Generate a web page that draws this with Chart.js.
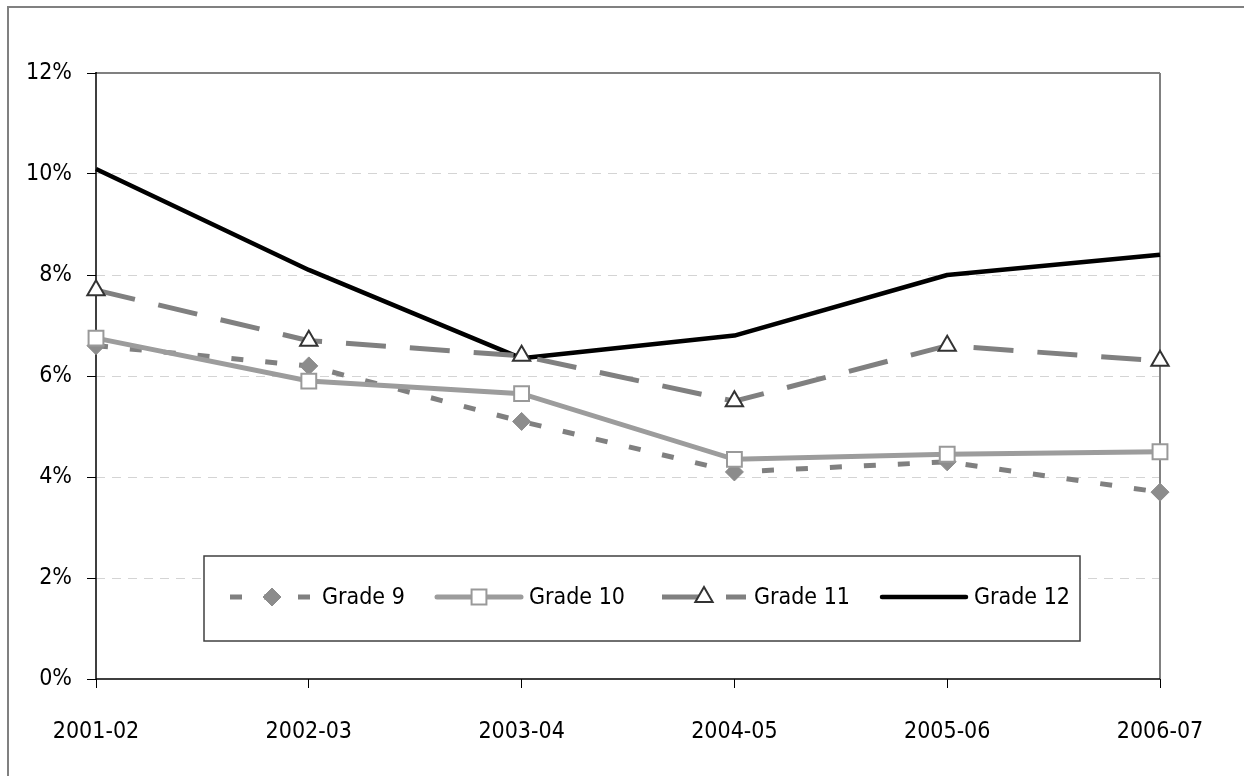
<!DOCTYPE html>
<html><head><meta charset="utf-8">
<script src="https://cdn.jsdelivr.net/npm/chart.js@4"></script>
<style>html,body{margin:0;padding:0;background:#fff;} #wrap{width:1244px;height:776px;position:relative}</style>
</head><body><div id="wrap"><canvas id="c" width="1244" height="776"></canvas></div>
<script>
const categories = ['2001-02','2002-03','2003-04','2004-05','2005-06','2006-07'];
const grade9 = [6.6, 6.2, 5.1, 4.1, 4.3, 3.7];
const grade10 = [6.75, 5.9, 5.65, 4.35, 4.45, 4.5];
const grade11 = [7.7, 6.7, 6.4, 5.5, 6.6, 6.3];
const grade12 = [10.1, 8.1, 6.35, 6.8, 8.0, 8.4];
const seriesNames = ['Grade 9','Grade 10','Grade 11','Grade 12'];
const yTickValues = [0, 2, 4, 6, 8, 10, 12];

const FONT = '"Liberation Sans Narrow", "DejaVu Sans Condensed", "Arial Narrow", sans-serif';
const FONT_SIZE = 23;
Chart.defaults.font.family = FONT;
Chart.defaults.font.size = FONT_SIZE;
Chart.defaults.color = '#000';

const outerBorder = {
  id: 'outerBorder',
  beforeDraw(chart) {
    const ctx = chart.ctx;
    ctx.save();
    ctx.fillStyle = '#fff';
    ctx.fillRect(0, 0, chart.width, chart.height);
    ctx.strokeStyle = '#808080';
    ctx.lineWidth = 2;
    ctx.strokeRect(8, 7, chart.width + 50, chart.height + 50);
    ctx.restore();
  }
};

const frame = {
  id: 'frame',
  beforeDatasetsDraw(chart) {
    const {ctx, chartArea: a} = chart;
    ctx.save();
    ctx.lineCap = 'butt';
    ctx.strokeStyle = '#808080';
    ctx.lineWidth = 2;
    ctx.beginPath();
    ctx.moveTo(a.left, a.top); ctx.lineTo(a.right, a.top);
    ctx.moveTo(a.right, a.top); ctx.lineTo(a.right, a.bottom);
    ctx.stroke();
    ctx.strokeStyle = '#000';
    ctx.lineWidth = 1.5;
    ctx.beginPath();
    ctx.moveTo(a.left, a.top - 1); ctx.lineTo(a.left, a.bottom);
    ctx.moveTo(a.left, a.bottom); ctx.lineTo(a.right, a.bottom);
    ctx.stroke();
    ctx.restore();
  }
};

const boxLegend = {
  id: 'boxLegend',
  afterDatasetsDraw(chart) {
    const ctx = chart.ctx;
    const a = chart.chartArea;
    const bx = a.left + 108, by = a.top + 483, bw = 876, bh = 85;
    ctx.save();
    ctx.fillStyle = '#fff';
    ctx.fillRect(bx, by, bw, bh);
    ctx.strokeStyle = '#404040';
    ctx.lineWidth = 1.5;
    ctx.strokeRect(bx, by, bw, bh);
    const cy = by + 41;
    const starts = [bx + 26, bx + 233, bx + 458, bx + 678];
    const lineLen = 84;
    chart.data.datasets.forEach((ds, i) => {
      const x0 = starts[i];
      ctx.save();
      ctx.strokeStyle = ds.borderColor;
      ctx.lineWidth = ds.borderWidth;
      ctx.lineCap = ds.legendCap || 'butt';
      ctx.setLineDash(ds.borderDash || []);
      ctx.beginPath();
      ctx.moveTo(x0, cy); ctx.lineTo(x0 + lineLen, cy);
      ctx.stroke();
      ctx.restore();
      if (ds.pointRadius > 0) {
        ctx.save();
        ctx.fillStyle = ds.pointBackgroundColor;
        ctx.strokeStyle = ds.pointBorderColor;
        ctx.lineWidth = ds.pointBorderWidth;
        ctx.setLineDash([]);
        Chart.helpers.drawPoint(ctx, {
          pointStyle: ds.pointStyle, rotation: 0, radius: ds.pointRadius,
          borderWidth: ds.pointBorderWidth
        }, x0 + lineLen / 2, cy);
        ctx.restore();
      }
      ctx.save();
      ctx.fillStyle = '#000';
      ctx.font = FONT_SIZE + 'px ' + FONT;
      ctx.textBaseline = 'middle';
      ctx.textAlign = 'left';
      ctx.fillText(ds.label, x0 + lineLen + 8, cy + 1);
      ctx.restore();
    });
    ctx.restore();
  }
};

const datasets = [
  {
    label: seriesNames[0], data: grade9,
    borderColor: '#808080', borderWidth: 5, borderDash: [12, 22],
    pointStyle: 'rectRot', pointRadius: 9, pointHoverRadius: 9,
    pointBackgroundColor: '#8c8c8c', pointBorderColor: '#8c8c8c', pointBorderWidth: 1,
    tension: 0, order: 4
  },
  {
    label: seriesNames[1], data: grade10,
    borderColor: '#9c9c9c', borderWidth: 5, legendCap: 'round',
    pointStyle: 'rect', pointRadius: 10.5, pointHoverRadius: 10.5,
    pointBackgroundColor: '#fff', pointBorderColor: '#999', pointBorderWidth: 2,
    tension: 0, order: 3
  },
  {
    label: seriesNames[2], data: grade11,
    borderColor: '#808080', borderWidth: 5, borderDash: [40, 24],
    pointStyle: 'triangle', pointRadius: 10, pointHoverRadius: 10,
    pointBackgroundColor: '#fff', pointBorderColor: '#333', pointBorderWidth: 2,
    tension: 0, order: 1
  },
  {
    label: seriesNames[3], data: grade12,
    borderColor: '#000', borderWidth: 4.5, borderJoinStyle: 'round', legendCap: 'round',
    pointRadius: 0, pointHoverRadius: 0,
    tension: 0, order: 2
  }
];

new Chart(document.getElementById('c'), {
  type: 'line',
  data: { labels: categories, datasets },
  plugins: [outerBorder, frame, boxLegend],
  options: {
    responsive: false,
    animation: false,
    layout: { padding: { top: 73, right: 84, left: 0, bottom: 0 } },
    plugins: { legend: { display: false }, tooltip: { enabled: false } },
    scales: {
      x: {
        offset: false,
        grid: { drawOnChartArea: false, tickLength: 9, tickColor: '#000', tickWidth: 1 },
        border: { display: false },
        ticks: { color: '#000', padding: 30, maxRotation: 0, autoSkip: false },
        afterFit(s) { s.height = 97; }
      },
      y: {
        min: 0, max: 12,
        afterBuildTicks(s) { s.ticks = yTickValues.map(v => ({ value: v })); },
        ticks: { color: '#000', padding: 15, callback: v => v + '%' },
        grid: {
          color: c => (c.tick && (c.tick.value === 0 || c.tick.value === 12)) ? 'rgba(0,0,0,0)' : '#d4d4d4',
          lineWidth: 1, tickColor: '#000', tickLength: 9, tickWidth: 1
        },
        border: { display: false, dash: [9, 7] },
        afterFit(s) { s.width = 96; }
      }
    }
  }
});
</script></body></html>
